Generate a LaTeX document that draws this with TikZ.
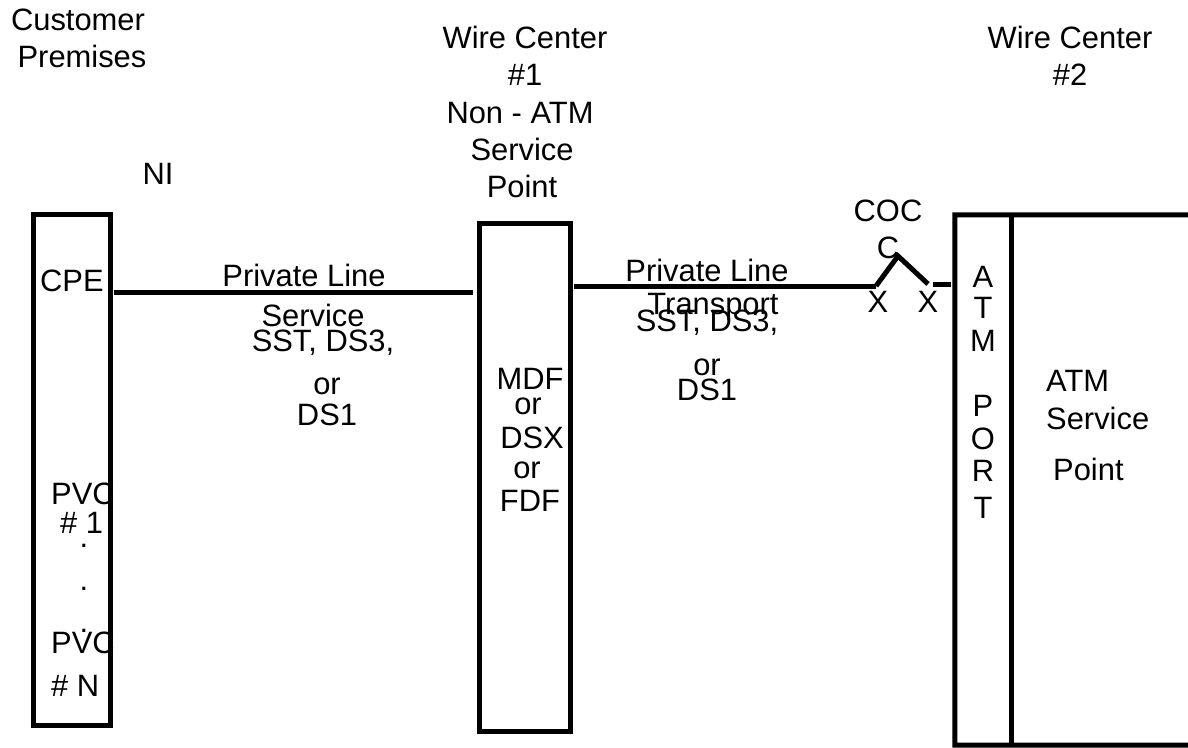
\documentclass[tikz,border=0pt]{standalone}
\usepackage{fontspec}
\setmainfont{Liberation Sans}
\begin{document}
\tikzset{
  lbl/.style={font=\fontsize{31}{36}\selectfont, inner sep=0pt, anchor=base},
  lblw/.style={lbl, anchor=base west},
  box/.style={draw, line width=5bp, inner sep=0pt},
  conn/.style={line width=5bp},
}
\begin{tikzpicture}[x=1bp,y=-1bp]
\useasboundingbox (0,0) rectangle (1188,748);

% boxes
\node[box, minimum width=76bp, minimum height=510bp] (cpe) at (72,470) {};
\node[box, minimum width=91bp, minimum height=507bp] (mid) at (525,477.5) {};
\node[inner sep=0pt, minimum width=56bp, minimum height=530bp] (port) at (983,480) {};
\coordinate (rtop) at (1195,215);
\coordinate (rbot) at (1195,745);
\draw[conn, line join=miter] (rtop) -- (port.north west) -- (port.south west) -- (rbot);
\draw[conn] (port.north east) -- ([yshift=-2bp]port.south east);

% connectors
\coordinate (y1) at (0,292);
\coordinate (y2) at (0,286);
\coordinate (j1) at (876,286);
\coordinate (apex) at (898,256);
\coordinate (j2) at (928,284);
\coordinate (j3) at (933,284);
\draw[conn] ([xshift=1bp]cpe.east |- y1) -- ([xshift=-4bp]mid.west |- y1);
\draw[conn] ([xshift=1bp]mid.east |- y2) -- (j1);
\draw[conn] (j1) -- (apex) -- (j2);
\draw[conn] (j3) -- ([xshift=-4bp]port.west |- j3);

% headings
\node[lbl] (cust1) at (78,31) {Customer};
\node[lbl] (cust2) at (82,68) {Premises};
\node[lbl] (wc1) at (525,49) {Wire Center};
\node[lbl] (wc1b) at (525,86) {\#1};
\node[lbl] (wc1c) at (520,123) {Non - ATM};
\node[lbl] (wc1d) at (522,160) {Service};
\node[lbl] (wc1e) at (522,197) {Point};
\node[lbl] (wc2) at (1070,49) {Wire Center};
\node[lbl] (wc2b) at (1070,86) {\#2};
\node[lbl] (ni) at (158,184) {NI};

% left box texts
\node[lblw] (cpet) at (40,291) {CPE};
\node[lblw] (pvc1) at (51,504) {PVC};
\node[lblw] (pvc1b) at (60,533) {\# 1};
\node[lbl] (d1) at (84,547) {.};
\node[lbl] (d2) at (84,590) {.};
\node[lbl] (d3) at (84,632) {.};
\node[lblw] (pvcn) at (51,653) {PVC};
\node[lblw] (pvcnb) at (51,696) {\# N};

% first link labels
\node[lbl] (pl1) at (304,286) {Private Line};
\node[lbl] (pl1b) at (313,326) {Service};
\node[lbl] (pl1c) at (323,351) {SST, DS3,};
\node[lbl] (pl1d) at (327,394) {or};
\node[lbl] (pl1e) at (327,425) {DS1};

% middle box texts
\node[lbl] (m1) at (530,389) {MDF};
\node[lbl] (m2) at (528,414) {or};
\node[lbl] (m3) at (532,448) {DSX};
\node[lbl] (m4) at (527,478) {or};
\node[lbl] (m5) at (530,511) {FDF};

% second link labels
\node[lbl] (pl2) at (707,281) {Private Line};
\node[lbl] (pl2b) at (713,314) {Transport};
\node[lbl] (pl2c) at (707,331) {SST, DS3,};
\node[lbl] (pl2d) at (707,375) {or};
\node[lbl] (pl2e) at (707,400) {DS1};

% COC
\node[lbl] (coc) at (888,221) {COC};
\node[lbl] (coc2) at (888,258) {C};
\node[lbl] (x1) at (878,312) {X};
\node[lbl] (x2) at (928,312) {X};

% ATM port letters
\node[lbl] (pa) at (983,287) {A};
\node[lbl] (pt) at (983,318) {T};
\node[lbl] (pm) at (983,351) {M};
\node[lbl] (pp) at (983,416) {P};
\node[lbl] (po) at (983,449) {O};
\node[lbl] (pr) at (983,481) {R};
\node[lbl] (pt2) at (983,518) {T};

% ATM service point
\node[lblw] (as1) at (1046,391) {ATM};
\node[lblw] (as2) at (1046,429) {Service};
\node[lblw] (as3) at (1053,480) {Point};
\end{tikzpicture}
\end{document}
